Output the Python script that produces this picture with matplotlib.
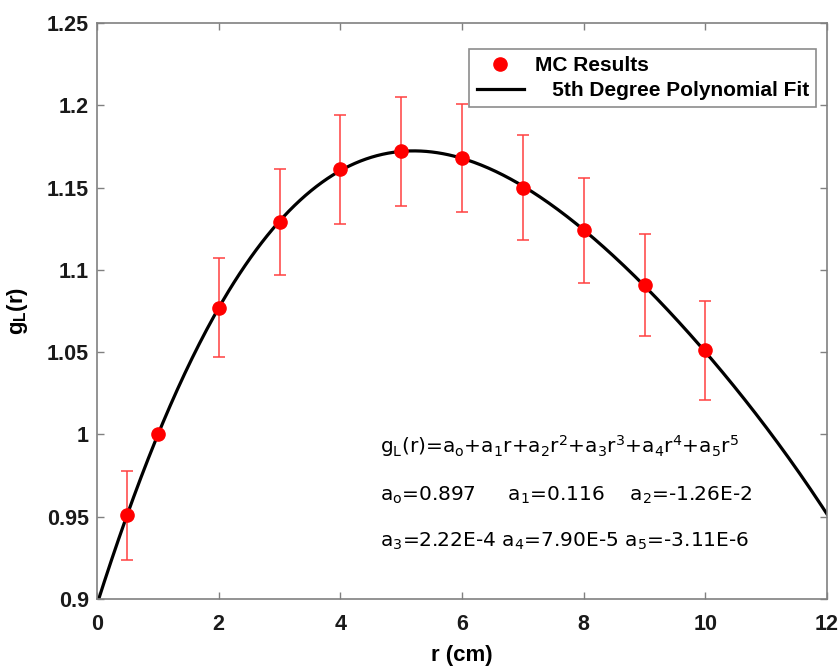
import numpy as np
import matplotlib
matplotlib.use("Agg")
import matplotlib.pyplot as plt

# ---- data ----
r_mc = [0.5, 1, 2, 3, 4, 5, 6, 7, 8, 9, 10]
g_mc = [0.951, 1.000, 1.077, 1.129, 1.161, 1.172, 1.168, 1.150, 1.124, 1.091, 1.051]
g_err = [0.027, 0.0, 0.030, 0.032, 0.033, 0.033, 0.033, 0.032, 0.032, 0.031, 0.030]

# samples
r_curve = [0, 0.5, 1, 2, 3, 4, 5, 6, 7, 8, 9, 10, 11, 12]
g_curve = [0.897, 0.951, 1.000, 1.077, 1.129, 1.161, 1.172, 1.168, 1.150, 1.124, 1.091, 1.051, 1.003, 0.952]

x_ticks = [0, 2, 4, 6, 8, 10, 12]
y_ticks = [0.9, 0.95, 1.0, 1.05, 1.1, 1.15, 1.2, 1.25]
y_tick_labels = ["0.9", "0.95", "1", "1.05", "1.1", "1.15", "1.2", "1.25"]

eq_lines = [
    "g$_L$(r)=a$_o$+a$_1$r+a$_2$r$^2$+a$_3$r$^3$+a$_4$r$^4$+a$_5$r$^5$",
    "a$_o$=0.897     a$_1$=0.116    a$_2$=-1.26E-2",
    "a$_3$=2.22E-4 a$_4$=7.90E-5 a$_5$=-3.11E-6",
]

plt.rcParams["mathtext.default"] = "regular"

fig = plt.figure(figsize=(8.4, 6.67), dpi=100)
ax = fig.add_axes([97 / 840, 1 - 599 / 667, 730 / 840, 576 / 667])

coef = np.polyfit(r_curve, g_curve, 5)
rr = np.linspace(0, 12, 400)
ax.plot(rr, np.polyval(coef, rr), color="black", lw=2.3, zorder=2,
        label="   5th Degree Polynomial Fit")

err_r = [r for r, e in zip(r_mc, g_err) if e > 0]
err_g = [g for g, e in zip(g_mc, g_err) if e > 0]
err_e = [e for e in g_err if e > 0]
ax.errorbar(err_r, err_g, yerr=err_e, fmt="none", ecolor="#ff4040",
            elinewidth=1.1, capsize=4, capthick=1.1, zorder=1)
ax.plot(r_mc, g_mc, "o", color="red", markersize=9.5, zorder=3,
        label="MC Results")

ax.set_xlim(0, 12)
ax.set_ylim(0.9, 1.25)
ax.set_xticks(x_ticks)
ax.set_xticklabels([str(v) for v in x_ticks])
ax.set_yticks(y_ticks)
ax.set_yticklabels(y_tick_labels)

for sp in ax.spines.values():
    sp.set_color("#808080")
    sp.set_linewidth(1.2)
ax.tick_params(direction="in", top=True, right=True, length=5, width=1,
               color="#808080", labelsize=15.5, labelcolor="#1a1a1a")
ax.tick_params(axis="y", pad=6)
ax.tick_params(axis="x", pad=11)
for lab in ax.get_xticklabels() + ax.get_yticklabels():
    lab.set_fontfamily("Liberation Sans")
    lab.set_fontweight("bold")

ax.set_xlabel("r (cm)", fontsize=16, fontweight="bold", family="Liberation Sans",
              labelpad=7)
ax.set_ylabel("g$_L$(r)", fontsize=16, fontweight="bold", family="Liberation Sans",
              labelpad=12)

handles, labels = ax.get_legend_handles_labels()
leg = ax.legend(handles[::-1], labels[::-1], loc="upper right",
                bbox_to_anchor=(0.9855, 0.9555), frameon=True, fancybox=False,
                handlelength=2.3, handletextpad=0.5, borderpad=0.35,
                labelspacing=0.3, borderaxespad=0,
                prop={"family": "Liberation Sans", "weight": "bold", "size": 15})
leg.get_frame().set_edgecolor("#707070")
leg.get_frame().set_linewidth(1.2)

y_pos = [0.265, 0.18, 0.1]
for txt, yp in zip(eq_lines, y_pos):
    ax.text(0.388, yp, txt, transform=ax.transAxes, fontsize=14.5,
            family="DejaVu Sans", va="center", ha="left")

fig.savefig("out.png", dpi=100)
